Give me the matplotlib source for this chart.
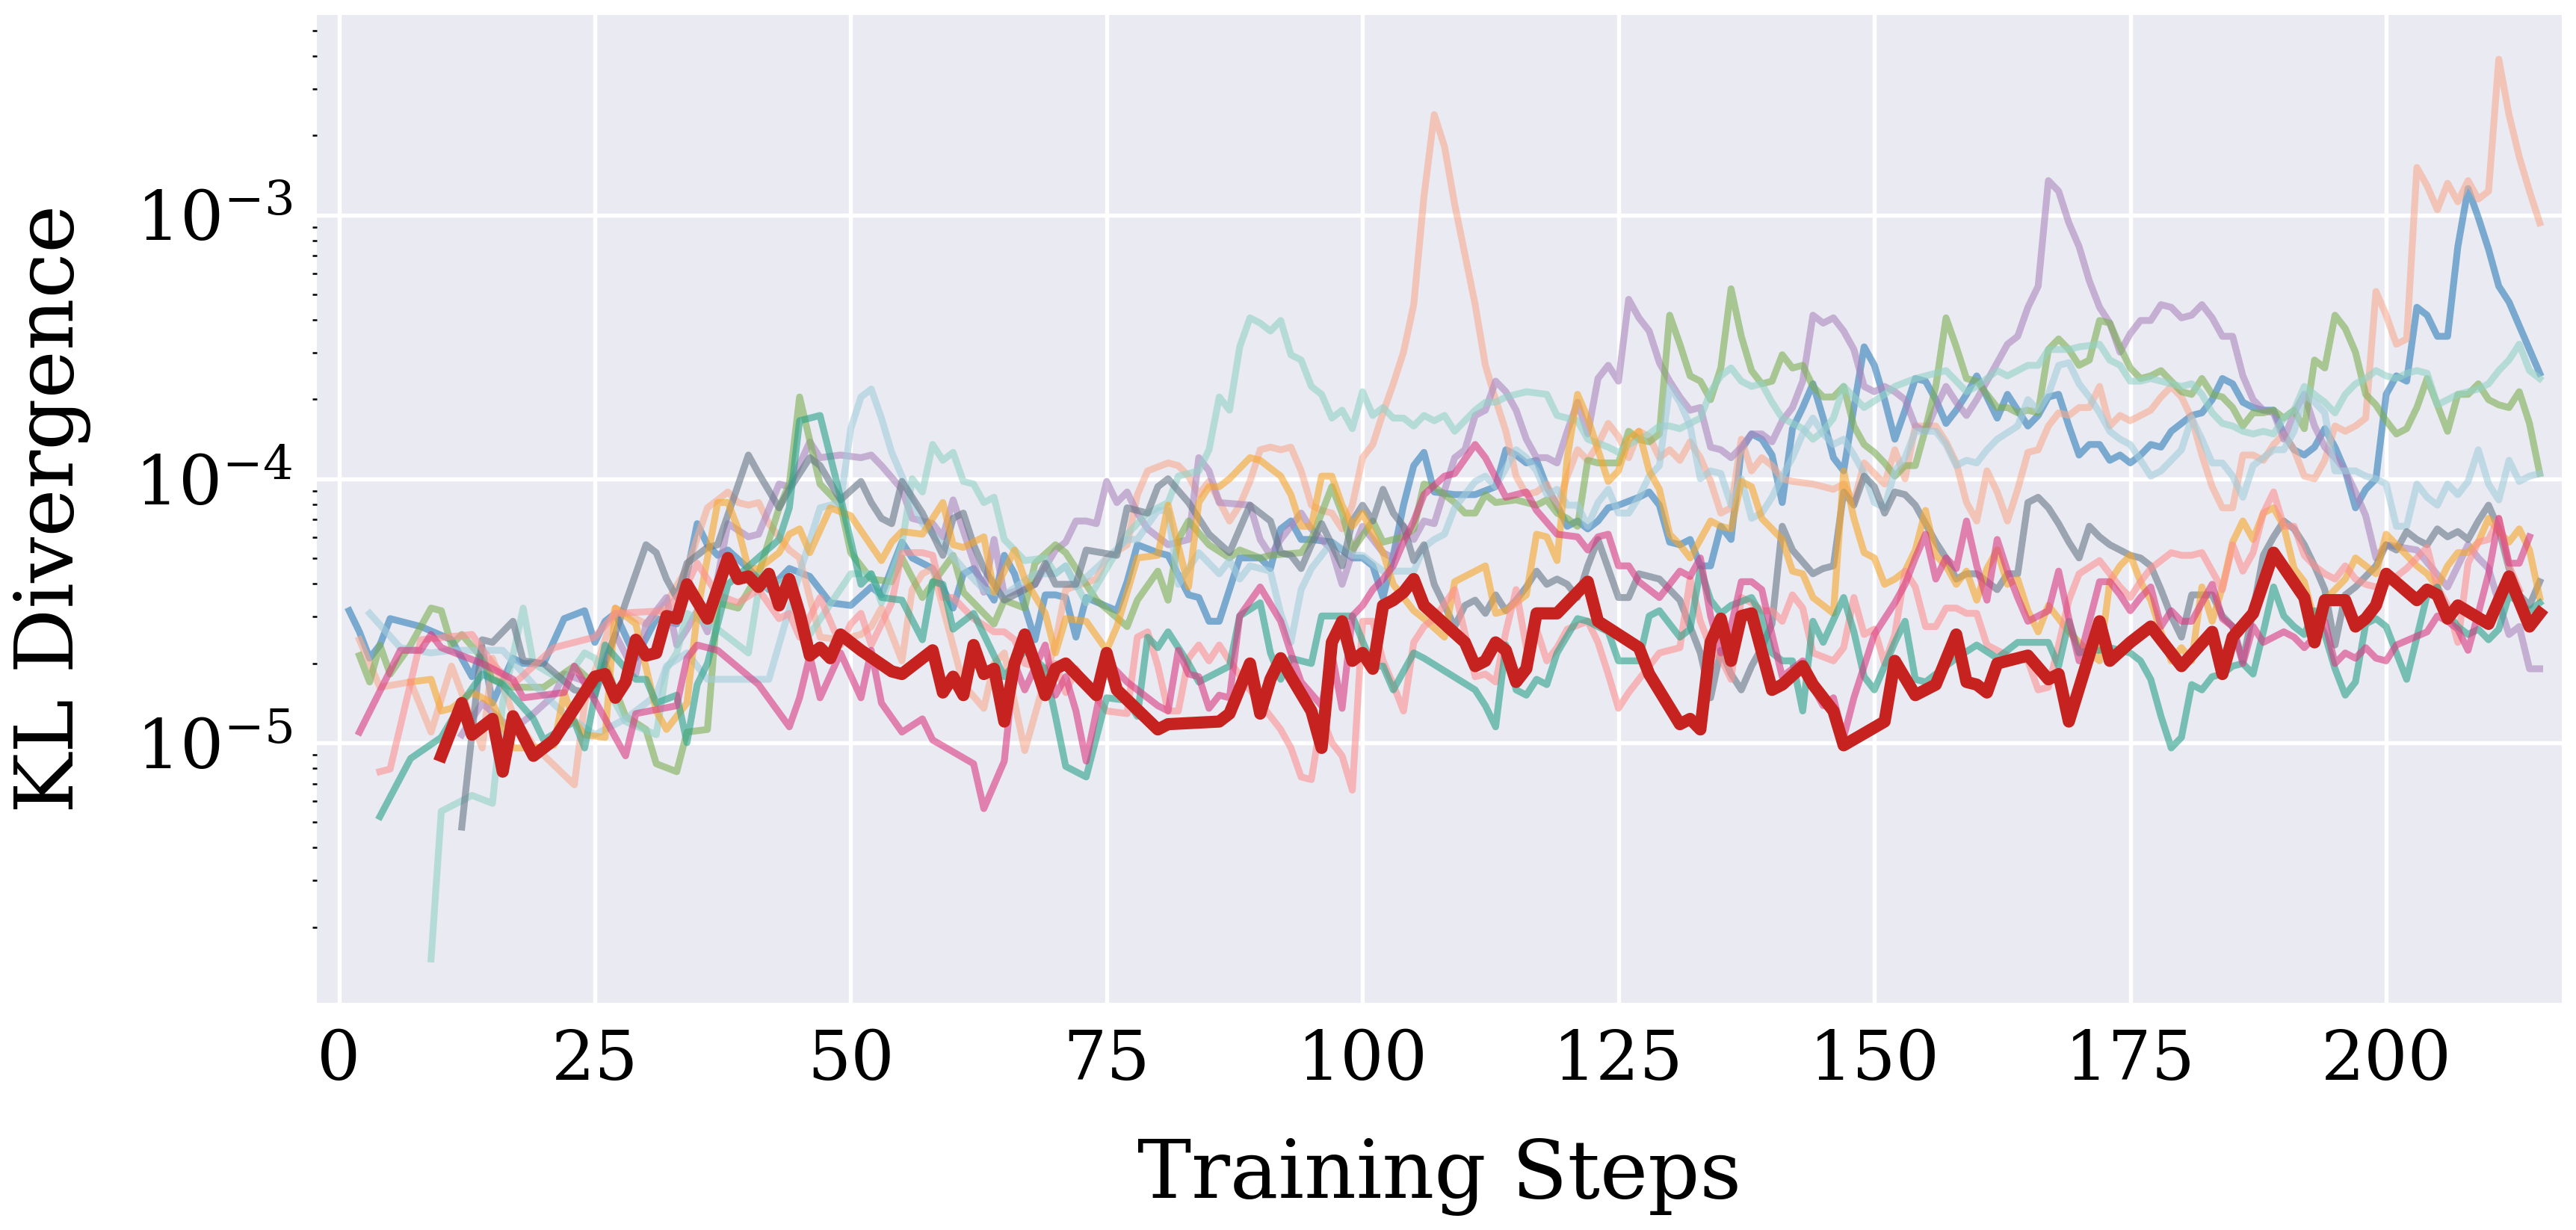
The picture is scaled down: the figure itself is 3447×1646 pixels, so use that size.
import matplotlib
matplotlib.use('Agg')
import matplotlib.pyplot as plt
import numpy as np

# KL divergence per run, values stored as log10(KL)
red_x = [10, 12, 13, 15, 16, 17, 19, 21, 25, 26, 27, 28, 29, 30, 31, 32, 33, 34, 36, 38, 39, 40, 41, 42, 43, 44, 45, 46, 47, 48, 49, 51, 54, 55, 58, 59, 60, 61, 62, 63, 64, 65, 66, 67, 68, 69, 70, 71, 74, 75, 76, 80, 81, 86, 87, 89, 90, 91, 92, 93, 95, 96, 97, 98, 99, 100, 101, 102, 103, 104, 105, 106, 110, 111, 112, 113, 114, 115, 116, 117, 119, 122, 123, 127, 128, 131, 132, 133, 134, 135, 136, 137, 138, 140, 141, 143, 144, 146, 147, 151, 152, 154, 156, 158, 159, 160, 161, 162, 165, 167, 168, 169, 172, 173, 175, 177, 180, 183, 184, 185, 187, 189, 192, 193, 194, 196, 197, 198, 199, 200, 203, 204, 205, 206, 207, 210, 212, 214, 215]
red_y = [-5.05, -4.85, -4.97, -4.91, -5.11, -4.90, -5.05, -4.99, -4.75, -4.74, -4.83, -4.77, -4.61, -4.67, -4.66, -4.52, -4.53, -4.40, -4.53, -4.30, -4.38, -4.37, -4.41, -4.36, -4.48, -4.38, -4.51, -4.67, -4.64, -4.68, -4.59, -4.65, -4.73, -4.74, -4.65, -4.81, -4.75, -4.82, -4.63, -4.74, -4.72, -4.92, -4.70, -4.59, -4.70, -4.82, -4.72, -4.70, -4.82, -4.66, -4.80, -4.95, -4.93, -4.92, -4.89, -4.70, -4.89, -4.76, -4.68, -4.75, -4.88, -5.02, -4.62, -4.54, -4.69, -4.66, -4.72, -4.48, -4.46, -4.43, -4.38, -4.48, -4.62, -4.71, -4.69, -4.62, -4.65, -4.77, -4.72, -4.51, -4.51, -4.39, -4.54, -4.64, -4.74, -4.93, -4.91, -4.95, -4.62, -4.53, -4.69, -4.52, -4.51, -4.80, -4.78, -4.71, -4.78, -4.88, -5.01, -4.92, -4.69, -4.82, -4.78, -4.59, -4.77, -4.78, -4.81, -4.70, -4.67, -4.76, -4.74, -4.92, -4.54, -4.69, -4.62, -4.56, -4.71, -4.58, -4.74, -4.60, -4.51, -4.28, -4.45, -4.62, -4.46, -4.46, -4.56, -4.53, -4.48, -4.36, -4.46, -4.42, -4.44, -4.53, -4.48, -4.55, -4.37, -4.56, -4.51]

blue_x = [1, 2, 3, 4, 5, 8, 11, 13, 14, 15, 17, 18, 20, 22, 24, 25, 26, 27, 29, 31, 33, 35, 36, 37, 38, 40, 42, 44, 46, 48, 50, 52, 53, 55, 56, 58, 60, 61, 62, 64, 65, 66, 68, 69, 70, 71, 72, 73, 76, 77, 78, 80, 81, 83, 84, 85, 86, 87, 88, 90, 91, 92, 93, 94, 95, 97, 98, 99, 100, 101, 102, 103, 104, 105, 106, 107, 109, 111, 113, 114, 115, 116, 117, 118, 119, 120, 121, 122, 123, 124, 125, 127, 128, 129, 130, 131, 132, 133, 134, 135, 136, 137, 138, 139, 140, 141, 142, 143, 144, 145, 146, 147, 148, 149, 150, 151, 152, 153, 154, 155, 156, 157, 158, 159, 160, 161, 162, 163, 164, 165, 166, 167, 168, 169, 170, 171, 172, 173, 174, 175, 176, 177, 178, 179, 180, 181, 182, 183, 184, 185, 186, 187, 188, 189, 190, 191, 192, 193, 194, 195, 196, 197, 198, 199, 200, 201, 202, 203, 204, 205, 206, 207, 208, 209, 210, 211, 212, 213, 214, 215]
blue_y = [-4.50, -4.58, -4.68, -4.63, -4.53, -4.56, -4.61, -4.75, -4.64, -4.85, -4.68, -4.70, -4.70, -4.53, -4.50, -4.62, -4.54, -4.51, -4.68, -4.53, -4.55, -4.17, -4.25, -4.29, -4.27, -4.34, -4.42, -4.34, -4.37, -4.47, -4.48, -4.41, -4.44, -4.24, -4.30, -4.34, -4.49, -4.36, -4.34, -4.46, -4.29, -4.36, -4.61, -4.44, -4.44, -4.45, -4.60, -4.45, -4.50, -4.39, -4.25, -4.28, -4.29, -4.44, -4.45, -4.54, -4.54, -4.42, -4.30, -4.30, -4.34, -4.19, -4.16, -4.23, -4.23, -4.24, -4.27, -4.30, -4.30, -4.33, -4.45, -4.29, -4.10, -3.95, -3.90, -4.05, -4.06, -4.06, -4.03, -3.89, -3.91, -3.94, -3.93, -4.03, -4.10, -4.18, -4.16, -4.19, -4.16, -4.11, -4.10, -4.07, -4.05, -4.10, -4.24, -4.25, -4.23, -4.33, -4.33, -4.18, -4.23, -3.89, -3.83, -3.85, -3.91, -4.09, -3.81, -3.73, -3.64, -3.77, -3.92, -3.97, -3.73, -3.50, -3.57, -3.70, -3.85, -3.74, -3.62, -3.63, -3.70, -3.79, -3.74, -3.68, -3.61, -3.69, -3.77, -3.68, -3.74, -3.80, -3.76, -3.69, -3.68, -3.80, -3.91, -3.87, -3.87, -3.93, -3.91, -3.94, -3.91, -3.87, -3.88, -3.82, -3.79, -3.76, -3.75, -3.70, -3.62, -3.64, -3.71, -3.73, -3.74, -3.74, -3.83, -3.89, -3.91, -3.88, -3.81, -3.88, -3.97, -4.11, -4.04, -4.00, -3.68, -3.61, -3.63, -3.35, -3.38, -3.46, -3.46, -3.12, -2.90, -3.01, -3.13, -3.27, -3.33, -3.42, -3.51, -3.60]

salmon_x = [2, 4, 7, 9, 11, 14, 15, 17, 19, 23, 24, 27, 30, 32, 34, 36, 38, 39, 40, 41, 42, 44, 45, 47, 49, 51, 52, 53, 55, 56, 57, 58, 61, 63, 64, 65, 67, 70, 71, 74, 75, 77, 78, 79, 81, 82, 83, 84, 85, 87, 88, 89, 90, 91, 92, 93, 94, 95, 96, 97, 98, 99, 100, 101, 102, 103, 104, 105, 106, 107, 108, 109, 110, 111, 112, 113, 114, 115, 116, 117, 118, 119, 120, 121, 122, 123, 124, 125, 126, 127, 128, 129, 130, 131, 132, 133, 134, 135, 136, 137, 138, 139, 140, 141, 142, 144, 146, 147, 148, 149, 150, 151, 152, 153, 154, 155, 156, 157, 158, 159, 160, 161, 162, 163, 164, 165, 166, 167, 168, 169, 170, 171, 172, 173, 174, 175, 176, 177, 178, 179, 180, 181, 182, 183, 184, 185, 186, 187, 188, 189, 190, 191, 192, 193, 194, 195, 196, 197, 198, 199, 200, 201, 202, 203, 204, 205, 206, 207, 208, 209, 210, 211, 212, 213, 214, 215]
salmon_y = [-4.61, -4.79, -4.77, -4.96, -4.71, -5.02, -4.68, -4.89, -5.01, -5.16, -4.85, -4.49, -4.55, -4.47, -4.34, -4.11, -4.05, -4.09, -4.10, -4.09, -4.17, -4.27, -4.30, -4.60, -4.61, -4.59, -4.56, -4.49, -4.69, -4.42, -4.36, -4.34, -4.78, -4.87, -4.70, -4.66, -5.03, -4.62, -4.42, -4.38, -4.30, -4.25, -4.06, -3.97, -3.94, -3.95, -3.99, -4.06, -4.01, -4.16, -4.10, -4.01, -3.89, -3.88, -3.89, -3.88, -3.97, -4.10, -4.12, -4.13, -4.19, -4.10, -3.92, -3.87, -3.75, -3.64, -3.52, -3.34, -2.93, -2.62, -2.74, -2.96, -3.15, -3.34, -3.57, -3.70, -3.82, -3.99, -4.06, -4.05, -4.02, -4.11, -3.99, -3.89, -3.93, -3.87, -3.79, -3.84, -3.92, -3.82, -3.84, -3.92, -3.89, -3.93, -3.86, -3.92, -4.01, -4.13, -4.11, -3.85, -3.97, -3.92, -3.95, -4.00, -4.01, -4.02, -4.04, -4.02, -4.09, -3.94, -3.98, -4.02, -3.89, -4.00, -3.80, -3.80, -3.80, -3.86, -3.94, -4.09, -4.16, -3.97, -4.05, -4.16, -4.04, -3.90, -3.89, -3.80, -3.75, -3.76, -3.73, -3.73, -3.65, -3.80, -3.76, -3.78, -3.76, -3.74, -3.69, -3.65, -3.69, -3.77, -3.91, -4.03, -4.11, -4.11, -3.91, -3.91, -3.93, -3.87, -3.83, -3.89, -3.99, -4.00, -3.93, -3.80, -3.82, -3.80, -3.77, -3.29, -3.38, -3.49, -3.47, -2.82, -2.89, -2.98, -2.88, -2.95, -2.87, -2.94, -2.91, -2.41, -2.62, -2.78, -2.91, -3.03]

purple_x = [12, 14, 16, 17, 19, 21, 22, 25, 27, 29, 30, 32, 33, 34, 35, 36, 38, 40, 41, 43, 44, 46, 47, 49, 51, 52, 53, 55, 56, 58, 59, 60, 63, 64, 65, 68, 70, 71, 72, 73, 74, 75, 76, 77, 78, 79, 81, 83, 84, 85, 86, 89, 90, 91, 92, 93, 94, 95, 97, 98, 99, 100, 101, 102, 103, 104, 105, 106, 107, 109, 110, 111, 112, 113, 114, 115, 116, 117, 118, 119, 120, 121, 122, 123, 124, 125, 126, 127, 128, 129, 130, 131, 132, 133, 134, 135, 136, 137, 138, 139, 140, 141, 142, 143, 144, 145, 146, 147, 148, 149, 150, 151, 152, 153, 154, 155, 156, 157, 158, 159, 160, 161, 162, 163, 164, 165, 166, 167, 168, 169, 170, 171, 172, 173, 174, 175, 176, 177, 178, 179, 180, 181, 182, 183, 184, 185, 186, 187, 188, 189, 190, 191, 192, 193, 194, 195, 196, 197, 198, 199, 200, 203, 206, 207, 208, 209, 210, 211, 212, 213, 214, 215]
purple_y = [-4.97, -4.85, -4.92, -4.95, -4.89, -4.82, -4.74, -4.78, -4.59, -4.74, -4.55, -4.45, -4.63, -4.57, -4.50, -4.58, -4.17, -4.22, -4.21, -4.02, -4.03, -3.86, -3.92, -3.91, -3.92, -3.91, -3.95, -4.04, -4.15, -4.17, -4.22, -4.08, -4.43, -4.23, -4.44, -4.40, -4.27, -4.24, -4.16, -4.16, -4.17, -4.01, -4.09, -4.05, -4.13, -4.19, -4.25, -4.23, -3.92, -3.97, -4.09, -4.10, -4.23, -4.29, -4.23, -4.18, -4.13, -4.19, -4.27, -4.40, -4.28, -4.18, -4.23, -4.28, -4.30, -4.18, -4.23, -4.16, -4.17, -3.92, -3.89, -3.76, -3.74, -3.63, -3.67, -3.74, -3.85, -3.92, -3.92, -3.94, -3.82, -3.71, -3.83, -3.62, -3.57, -3.63, -3.32, -3.39, -3.44, -3.56, -3.63, -3.69, -3.74, -3.73, -3.88, -3.89, -3.92, -3.88, -3.83, -3.83, -3.86, -3.78, -3.73, -3.63, -3.38, -3.41, -3.39, -3.44, -3.51, -3.65, -3.67, -3.65, -3.67, -3.70, -3.80, -3.82, -3.73, -3.65, -3.71, -3.76, -3.70, -3.63, -3.56, -3.49, -3.46, -3.35, -3.27, -2.87, -2.91, -3.03, -3.12, -3.25, -3.35, -3.41, -3.52, -3.45, -3.40, -3.40, -3.34, -3.35, -3.39, -3.38, -3.34, -3.39, -3.46, -3.46, -3.61, -3.70, -3.74, -3.75, -3.85, -3.75, -3.68, -3.80, -3.88, -3.92, -3.97, -4.05, -4.14, -4.30, -4.25, -4.27, -4.41, -4.33, -4.25, -4.30, -4.34, -4.47, -4.59, -4.56, -4.72, -4.72]

green_x = [2, 3, 4, 5, 7, 9, 10, 11, 12, 14, 15, 17, 20, 23, 25, 26, 28, 30, 31, 33, 34, 36, 37, 39, 41, 43, 44, 45, 47, 49, 50, 52, 54, 55, 57, 60, 61, 64, 65, 67, 68, 70, 71, 74, 77, 78, 80, 81, 82, 83, 85, 87, 88, 90, 91, 94, 95, 97, 98, 99, 101, 102, 104, 105, 106, 107, 109, 110, 111, 112, 113, 115, 116, 117, 118, 119, 120, 121, 122, 123, 125, 126, 127, 128, 129, 130, 131, 132, 133, 134, 135, 136, 137, 138, 139, 140, 141, 142, 143, 144, 145, 146, 147, 148, 149, 150, 151, 152, 153, 154, 155, 156, 157, 158, 159, 160, 161, 162, 163, 164, 165, 166, 167, 168, 169, 170, 171, 172, 173, 174, 175, 176, 177, 178, 179, 180, 181, 182, 183, 184, 185, 186, 187, 188, 189, 190, 191, 192, 193, 194, 195, 196, 197, 198, 199, 200, 201, 202, 203, 204, 205, 206, 207, 208, 209, 210, 211, 212, 213, 214, 215]
green_y = [-4.67, -4.77, -4.63, -4.74, -4.63, -4.49, -4.50, -4.63, -4.59, -4.68, -4.76, -4.79, -4.79, -4.71, -4.78, -4.70, -4.90, -4.95, -5.08, -5.11, -4.96, -4.95, -4.47, -4.49, -4.36, -4.11, -4.02, -3.69, -4.02, -4.10, -4.28, -4.38, -4.39, -4.30, -4.45, -4.29, -4.43, -4.55, -4.46, -4.49, -4.32, -4.25, -4.28, -4.46, -4.56, -4.46, -4.35, -4.46, -4.23, -4.16, -4.25, -4.30, -4.27, -4.30, -4.29, -4.28, -4.23, -4.03, -4.13, -4.27, -4.16, -4.24, -4.22, -4.19, -4.02, -4.03, -4.09, -4.13, -4.13, -4.06, -4.09, -4.08, -4.09, -4.10, -4.08, -4.13, -4.15, -4.18, -3.93, -3.94, -3.94, -3.82, -3.85, -3.86, -3.83, -3.38, -3.49, -3.61, -3.63, -3.70, -3.58, -3.28, -3.46, -3.59, -3.64, -3.63, -3.53, -3.58, -3.57, -3.65, -3.69, -3.69, -3.65, -3.80, -3.87, -3.90, -3.94, -3.99, -3.95, -3.95, -3.81, -3.65, -3.39, -3.50, -3.62, -3.63, -3.68, -3.73, -3.73, -3.75, -3.74, -3.75, -3.51, -3.47, -3.51, -3.57, -3.55, -3.40, -3.41, -3.50, -3.58, -3.62, -3.61, -3.59, -3.63, -3.67, -3.68, -3.62, -3.68, -3.69, -3.73, -3.80, -3.75, -3.75, -3.74, -3.77, -3.74, -3.81, -3.55, -3.58, -3.38, -3.43, -3.52, -3.68, -3.72, -3.78, -3.83, -3.81, -3.73, -3.62, -3.72, -3.82, -3.68, -3.68, -3.64, -3.70, -3.72, -3.73, -3.67, -3.79, -3.98]

mint_x = [9, 10, 13, 15, 16, 18, 19, 22, 24, 25, 27, 28, 31, 32, 33, 34, 37, 40, 41, 44, 46, 50, 52, 53, 55, 56, 57, 58, 59, 60, 61, 62, 63, 64, 65, 67, 69, 70, 71, 73, 75, 77, 79, 81, 82, 84, 85, 86, 87, 88, 89, 90, 91, 92, 93, 94, 95, 96, 97, 98, 99, 100, 101, 102, 103, 104, 105, 106, 107, 108, 109, 111, 112, 113, 114, 116, 118, 119, 121, 122, 124, 125, 126, 127, 128, 129, 130, 131, 133, 134, 135, 136, 137, 138, 139, 140, 141, 143, 144, 145, 146, 147, 148, 149, 151, 152, 154, 157, 159, 160, 162, 163, 165, 166, 167, 169, 170, 172, 173, 174, 175, 176, 177, 180, 181, 182, 183, 184, 185, 186, 187, 188, 189, 190, 191, 192, 193, 194, 195, 196, 197, 198, 199, 200, 201, 202, 203, 204, 205, 206, 207, 208, 209, 210, 211, 212, 213, 214, 215]
mint_y = [-5.82, -5.26, -5.20, -5.23, -4.85, -4.49, -4.70, -4.77, -4.66, -4.68, -4.85, -4.92, -4.97, -4.72, -4.66, -4.51, -4.57, -4.66, -4.42, -4.38, -4.59, -4.36, -4.36, -4.47, -4.25, -4.00, -4.05, -3.87, -3.93, -3.90, -4.01, -4.02, -4.09, -4.07, -4.23, -4.31, -4.30, -4.36, -4.33, -4.47, -4.34, -4.21, -4.13, -4.09, -3.99, -3.97, -3.89, -3.69, -3.74, -3.50, -3.39, -3.41, -3.44, -3.40, -3.53, -3.55, -3.65, -3.68, -3.77, -3.74, -3.81, -3.67, -3.76, -3.73, -3.77, -3.77, -3.80, -3.76, -3.78, -3.76, -3.82, -3.74, -3.71, -3.71, -3.69, -3.67, -3.68, -3.76, -3.78, -3.85, -3.88, -3.90, -3.87, -3.85, -3.83, -3.80, -3.80, -3.81, -3.77, -3.67, -3.61, -3.58, -3.63, -3.65, -3.64, -3.71, -3.77, -3.81, -3.85, -3.82, -3.77, -3.65, -3.69, -3.73, -3.68, -3.65, -3.62, -3.59, -3.67, -3.65, -3.59, -3.61, -3.57, -3.57, -3.51, -3.51, -3.50, -3.49, -3.55, -3.57, -3.63, -3.63, -3.62, -3.65, -3.64, -3.68, -3.75, -3.79, -3.80, -3.82, -3.83, -3.82, -3.83, -3.77, -3.74, -3.65, -3.68, -3.71, -3.75, -3.68, -3.64, -3.62, -3.59, -3.61, -3.62, -3.60, -3.59, -3.60, -3.72, -3.70, -3.68, -3.67, -3.66, -3.64, -3.59, -3.55, -3.49, -3.59, -3.62]

skyblue_x = [3, 6, 9, 11, 16, 19, 22, 25, 28, 31, 32, 34, 36, 39, 42, 45, 47, 49, 50, 51, 52, 53, 54, 56, 57, 59, 61, 63, 65, 68, 70, 71, 72, 77, 78, 80, 81, 82, 84, 86, 87, 88, 89, 91, 92, 93, 94, 95, 97, 99, 100, 102, 104, 105, 106, 107, 108, 109, 111, 112, 113, 115, 116, 117, 118, 119, 120, 121, 122, 123, 124, 125, 126, 127, 128, 129, 130, 131, 132, 133, 134, 135, 136, 137, 138, 139, 140, 141, 142, 143, 144, 145, 146, 147, 148, 149, 150, 151, 152, 153, 154, 156, 157, 158, 159, 160, 161, 162, 164, 165, 166, 167, 168, 169, 170, 171, 172, 173, 174, 175, 176, 177, 178, 179, 180, 181, 182, 183, 184, 185, 186, 187, 188, 189, 190, 191, 192, 193, 194, 195, 196, 197, 198, 199, 200, 201, 202, 203, 204, 205, 206, 207, 208, 209, 210, 211, 212, 213, 214, 215]
skyblue_y = [-4.51, -4.64, -4.66, -4.65, -4.65, -4.78, -4.89, -4.97, -4.91, -4.82, -4.71, -4.66, -4.76, -4.76, -4.76, -4.36, -4.11, -4.09, -3.81, -3.69, -3.66, -3.77, -3.90, -4.08, -4.17, -4.25, -4.34, -4.42, -4.44, -4.36, -4.36, -4.33, -4.41, -4.23, -4.23, -4.12, -4.12, -4.40, -4.28, -4.36, -4.31, -4.38, -4.33, -4.35, -4.51, -4.62, -4.42, -4.34, -4.24, -4.29, -4.29, -4.35, -4.35, -4.35, -4.26, -4.23, -4.21, -4.11, -4.01, -3.99, -4.03, -3.89, -3.92, -3.97, -4.06, -4.04, -4.10, -4.10, -4.18, -4.09, -4.04, -4.13, -4.13, -4.07, -3.99, -3.95, -3.65, -3.71, -3.80, -4.00, -3.97, -3.98, -4.10, -4.00, -4.15, -4.13, -4.07, -3.99, -3.92, -3.83, -3.77, -3.83, -3.87, -3.85, -3.91, -3.98, -4.09, -4.11, -3.97, -3.92, -3.82, -3.82, -3.87, -3.95, -3.93, -3.94, -3.89, -3.85, -3.80, -3.70, -3.74, -3.68, -3.57, -3.56, -3.64, -3.69, -3.75, -3.82, -3.85, -3.87, -3.93, -3.99, -3.97, -3.93, -3.89, -3.77, -3.85, -3.94, -3.94, -3.99, -4.07, -3.95, -3.92, -3.89, -3.89, -3.82, -3.68, -3.71, -3.75, -3.97, -3.97, -3.97, -3.99, -4.00, -4.02, -4.18, -4.18, -4.02, -4.07, -4.10, -4.02, -4.06, -4.01, -3.89, -4.02, -4.08, -3.93, -4.01, -3.99, -3.98]

gray_x = [12, 14, 15, 17, 18, 20, 23, 25, 28, 30, 31, 32, 33, 34, 36, 37, 40, 41, 43, 44, 46, 47, 49, 51, 52, 53, 54, 55, 57, 59, 60, 61, 62, 63, 65, 68, 69, 70, 72, 73, 76, 77, 79, 80, 81, 83, 85, 87, 89, 91, 92, 93, 94, 95, 96, 98, 99, 100, 101, 102, 103, 104, 105, 106, 107, 109, 110, 111, 112, 113, 114, 115, 116, 117, 118, 119, 120, 121, 122, 123, 124, 125, 126, 127, 129, 131, 132, 133, 134, 135, 136, 137, 138, 139, 140, 141, 142, 144, 145, 146, 147, 148, 149, 150, 151, 152, 153, 154, 155, 156, 157, 158, 159, 160, 161, 162, 163, 164, 165, 166, 167, 168, 169, 170, 171, 172, 173, 174, 175, 176, 177, 178, 179, 180, 181, 183, 184, 185, 186, 187, 188, 189, 190, 191, 192, 193, 194, 195, 196, 197, 198, 199, 200, 201, 202, 203, 204, 205, 206, 207, 208, 209, 210, 211, 212, 213, 214, 215]
gray_y = [-5.32, -4.61, -4.62, -4.54, -4.69, -4.70, -4.80, -4.82, -4.47, -4.25, -4.28, -4.38, -4.45, -4.32, -4.26, -4.25, -3.91, -3.98, -4.11, -4.04, -3.92, -3.95, -4.08, -4.01, -4.09, -4.15, -4.17, -4.01, -4.13, -4.29, -4.15, -4.13, -4.25, -4.34, -4.46, -4.40, -4.32, -4.40, -4.40, -4.27, -4.29, -4.11, -4.13, -4.03, -4.00, -4.09, -4.21, -4.28, -4.10, -4.16, -4.28, -4.29, -4.34, -4.25, -4.17, -4.33, -4.16, -4.10, -4.16, -4.04, -4.13, -4.18, -4.31, -4.25, -4.40, -4.56, -4.48, -4.46, -4.51, -4.44, -4.50, -4.46, -4.41, -4.35, -4.40, -4.38, -4.40, -4.45, -4.33, -4.23, -4.34, -4.45, -4.45, -4.36, -4.38, -4.46, -4.56, -4.66, -4.83, -4.65, -4.74, -4.80, -4.71, -4.64, -4.55, -4.18, -4.27, -4.36, -4.34, -4.33, -4.05, -4.10, -3.99, -4.03, -4.13, -4.05, -4.06, -4.10, -4.17, -4.24, -4.30, -4.38, -4.36, -4.36, -4.39, -4.42, -4.36, -4.36, -4.09, -4.07, -4.11, -4.17, -4.24, -4.30, -4.18, -4.22, -4.25, -4.27, -4.29, -4.30, -4.33, -4.42, -4.52, -4.60, -4.44, -4.44, -4.52, -4.56, -4.69, -4.50, -4.29, -4.22, -4.16, -4.19, -4.25, -4.33, -4.42, -4.63, -4.44, -4.41, -4.37, -4.33, -4.25, -4.27, -4.20, -4.23, -4.25, -4.19, -4.22, -4.20, -4.23, -4.16, -4.10, -4.19, -4.34, -4.44, -4.48, -4.39]

orange_x = [7, 9, 10, 11, 13, 15, 17, 19, 21, 22, 23, 24, 26, 27, 29, 31, 32, 34, 35, 37, 38, 39, 40, 41, 43, 44, 45, 46, 48, 50, 53, 54, 55, 57, 59, 60, 61, 63, 64, 66, 67, 69, 70, 71, 73, 75, 76, 78, 80, 81, 83, 84, 85, 86, 87, 89, 90, 92, 93, 94, 95, 96, 97, 98, 99, 100, 101, 102, 103, 104, 105, 106, 108, 109, 112, 113, 114, 116, 117, 118, 119, 120, 121, 122, 123, 124, 125, 126, 127, 128, 129, 130, 131, 132, 133, 134, 135, 136, 137, 138, 139, 140, 141, 142, 143, 144, 146, 147, 148, 149, 150, 151, 152, 153, 154, 155, 156, 157, 158, 159, 160, 161, 162, 163, 164, 165, 166, 167, 169, 170, 171, 172, 173, 174, 175, 176, 177, 178, 179, 180, 181, 182, 183, 184, 185, 186, 187, 188, 189, 190, 191, 192, 193, 194, 195, 196, 197, 198, 199, 200, 201, 203, 204, 205, 206, 207, 208, 209, 210, 211, 212, 213, 214, 215]
orange_y = [-4.77, -4.76, -4.88, -4.87, -4.81, -4.85, -5.02, -5.02, -5.01, -4.81, -4.92, -4.97, -4.98, -4.49, -4.55, -4.88, -4.95, -4.85, -4.51, -4.09, -4.09, -4.19, -4.34, -4.34, -4.28, -4.21, -4.19, -4.28, -4.11, -4.14, -4.31, -4.24, -4.20, -4.21, -4.09, -4.25, -4.26, -4.22, -4.43, -4.27, -4.38, -4.51, -4.66, -4.53, -4.54, -4.65, -4.56, -4.30, -4.29, -4.10, -4.41, -4.09, -4.03, -4.03, -4.00, -3.92, -3.93, -3.99, -4.06, -4.18, -4.18, -3.99, -3.99, -4.10, -4.18, -4.13, -4.21, -4.28, -4.40, -4.45, -4.50, -4.53, -4.60, -4.39, -4.33, -4.51, -4.50, -4.44, -4.21, -4.22, -4.31, -3.92, -3.68, -3.77, -3.89, -4.01, -3.97, -3.85, -3.82, -3.97, -4.04, -4.21, -4.25, -4.30, -4.23, -4.16, -4.18, -4.19, -4.01, -4.03, -4.15, -4.19, -4.23, -4.35, -4.36, -4.45, -4.51, -3.97, -4.15, -4.28, -4.30, -4.40, -4.38, -4.35, -4.27, -4.12, -4.29, -4.33, -4.40, -4.35, -4.46, -4.34, -4.27, -4.40, -4.38, -4.50, -4.58, -4.48, -4.58, -4.62, -4.66, -4.69, -4.39, -4.33, -4.29, -4.39, -4.46, -4.58, -4.69, -4.64, -4.69, -4.41, -4.54, -4.41, -4.24, -4.16, -4.23, -4.13, -4.11, -4.18, -4.34, -4.39, -4.54, -4.46, -4.42, -4.38, -4.30, -4.33, -4.36, -4.21, -4.25, -4.33, -4.36, -4.41, -4.33, -4.28, -4.28, -4.24, -4.15, -4.20, -4.24, -4.19, -4.27, -4.45]

pink_x = [2, 6, 8, 9, 10, 14, 17, 18, 22, 23, 25, 28, 29, 33, 34, 35, 37, 41, 44, 45, 46, 47, 49, 51, 52, 53, 55, 57, 58, 62, 63, 65, 66, 67, 69, 70, 71, 72, 73, 75, 77, 80, 81, 82, 83, 84, 85, 86, 87, 88, 90, 92, 93, 94, 96, 97, 98, 99, 100, 101, 102, 103, 104, 105, 106, 108, 109, 111, 112, 114, 116, 117, 119, 121, 122, 123, 124, 125, 126, 127, 129, 131, 132, 133, 134, 135, 136, 137, 138, 139, 140, 141, 143, 144, 145, 146, 147, 148, 149, 150, 152, 153, 154, 155, 156, 157, 158, 159, 160, 161, 162, 163, 164, 165, 166, 167, 168, 169, 170, 171, 172, 173, 174, 175, 176, 177, 178, 179, 180, 181, 182, 183, 184, 185, 186, 187, 188, 189, 190, 191, 192, 193, 194, 195, 196, 197, 198, 199, 200, 201, 204, 205, 206, 207, 208, 209, 210, 211, 212, 213, 214]
pink_y = [-4.96, -4.65, -4.65, -4.59, -4.64, -4.70, -4.76, -4.83, -4.81, -4.71, -4.84, -5.05, -4.89, -4.86, -4.68, -4.63, -4.65, -4.78, -4.94, -4.83, -4.67, -4.83, -4.66, -4.83, -4.65, -4.85, -4.96, -4.91, -4.99, -5.08, -5.25, -5.07, -4.70, -4.80, -4.63, -4.82, -4.75, -4.88, -5.07, -4.69, -4.77, -4.86, -4.88, -4.65, -4.74, -4.75, -4.87, -4.82, -4.83, -4.52, -4.41, -4.54, -4.66, -4.77, -4.86, -4.66, -4.87, -4.52, -4.48, -4.42, -4.38, -4.33, -4.24, -4.16, -4.06, -3.99, -3.98, -3.87, -3.92, -4.07, -4.05, -4.12, -4.21, -4.22, -4.27, -4.22, -4.21, -4.33, -4.33, -4.39, -4.45, -4.35, -4.37, -4.30, -4.52, -4.66, -4.56, -4.39, -4.39, -4.42, -4.59, -4.75, -4.69, -4.79, -4.86, -4.83, -4.98, -4.83, -4.71, -4.59, -4.47, -4.40, -4.30, -4.21, -4.38, -4.30, -4.34, -4.16, -4.33, -4.46, -4.23, -4.35, -4.45, -4.54, -4.52, -4.50, -4.35, -4.53, -4.69, -4.54, -4.39, -4.39, -4.44, -4.50, -4.45, -4.41, -4.56, -4.50, -4.54, -4.54, -4.47, -4.40, -4.53, -4.56, -4.70, -4.56, -4.62, -4.60, -4.58, -4.60, -4.64, -4.60, -4.54, -4.70, -4.66, -4.68, -4.64, -4.68, -4.69, -4.63, -4.58, -4.52, -4.54, -4.57, -4.65, -4.51, -4.36, -4.15, -4.32, -4.32, -4.22]

teal_x = [4, 7, 10, 12, 14, 16, 19, 20, 23, 24, 26, 28, 29, 30, 31, 33, 34, 35, 36, 38, 43, 44, 45, 47, 49, 51, 52, 53, 55, 57, 58, 59, 60, 62, 65, 67, 69, 70, 71, 73, 75, 77, 78, 79, 80, 81, 83, 84, 87, 88, 90, 91, 92, 93, 95, 96, 99, 101, 102, 103, 105, 106, 111, 112, 113, 114, 115, 116, 117, 118, 119, 121, 122, 124, 125, 127, 128, 129, 131, 132, 133, 134, 135, 136, 138, 139, 140, 141, 142, 143, 144, 145, 147, 148, 149, 150, 152, 153, 154, 155, 156, 158, 160, 162, 164, 165, 167, 168, 169, 170, 171, 172, 173, 175, 176, 177, 178, 179, 180, 181, 182, 183, 184, 185, 186, 187, 188, 189, 190, 191, 192, 193, 194, 195, 196, 197, 198, 199, 200, 202, 203, 204, 205, 206, 207, 208, 209, 210, 211, 212, 213, 214, 215]
teal_y = [-5.28, -5.06, -4.98, -4.85, -4.74, -4.78, -4.91, -4.99, -4.92, -5.02, -4.63, -4.72, -4.76, -4.76, -4.85, -4.82, -5.00, -4.78, -4.70, -4.40, -4.23, -4.11, -3.78, -3.76, -4.07, -4.40, -4.36, -4.45, -4.46, -4.61, -4.39, -4.40, -4.57, -4.51, -4.75, -4.65, -4.72, -4.90, -5.09, -5.13, -4.83, -4.84, -4.90, -4.60, -4.64, -4.58, -4.70, -4.77, -4.71, -4.52, -4.47, -4.66, -4.76, -4.68, -4.70, -4.52, -4.52, -4.71, -4.71, -4.80, -4.66, -4.68, -4.80, -4.86, -4.94, -4.63, -4.80, -4.82, -4.76, -4.78, -4.66, -4.53, -4.54, -4.58, -4.69, -4.69, -4.52, -4.50, -4.60, -4.57, -4.34, -4.46, -4.51, -4.48, -4.45, -4.52, -4.66, -4.69, -4.69, -4.88, -4.54, -4.62, -4.45, -4.58, -4.75, -4.80, -4.62, -4.54, -4.76, -4.77, -4.74, -4.68, -4.63, -4.68, -4.62, -4.62, -4.62, -4.71, -4.54, -4.66, -4.65, -4.65, -4.64, -4.66, -4.69, -4.76, -4.90, -5.02, -4.98, -4.78, -4.80, -4.75, -4.74, -4.71, -4.70, -4.74, -4.58, -4.41, -4.52, -4.56, -4.59, -4.50, -4.59, -4.72, -4.82, -4.77, -4.55, -4.53, -4.56, -4.76, -4.60, -4.44, -4.41, -4.51, -4.56, -4.59, -4.57, -4.61, -4.57, -4.44, -4.47, -4.50, -4.47]

rose_x = [4, 5, 8, 13, 15, 17, 21, 25, 27, 32, 34, 35, 37, 39, 41, 43, 44, 45, 47, 49, 50, 51, 52, 54, 55, 57, 58, 59, 60, 62, 64, 65, 66, 67, 69, 70, 71, 72, 73, 75, 77, 78, 79, 80, 81, 82, 83, 84, 85, 86, 87, 89, 92, 93, 94, 95, 96, 97, 98, 99, 100, 101, 102, 103, 104, 105, 106, 107, 109, 111, 112, 113, 114, 115, 116, 117, 118, 119, 120, 122, 123, 124, 125, 126, 128, 129, 131, 132, 133, 134, 135, 136, 137, 138, 139, 140, 141, 142, 143, 144, 146, 147, 148, 149, 150, 151, 152, 153, 154, 155, 156, 157, 158, 159, 160, 161, 162, 163, 165, 166, 167, 168, 169, 170, 172, 173, 174, 175, 176, 177, 178, 179, 180, 181, 182, 183, 184, 185, 186, 187, 188, 189, 190, 191, 192, 193, 194, 195, 196, 197, 198, 199, 200, 202, 204, 205, 206, 207, 208, 209, 210, 211, 212, 213]
rose_y = [-5.11, -5.10, -4.61, -4.59, -4.70, -4.78, -4.64, -4.60, -4.51, -4.50, -4.40, -4.32, -4.44, -4.47, -4.42, -4.53, -4.51, -4.60, -4.45, -4.63, -4.55, -4.51, -4.63, -4.47, -4.28, -4.28, -4.29, -4.45, -4.45, -4.53, -4.58, -4.58, -4.61, -4.70, -4.72, -4.70, -4.81, -4.72, -4.78, -4.88, -4.89, -4.60, -4.58, -4.71, -4.88, -4.88, -4.68, -4.63, -4.69, -4.63, -4.69, -4.80, -4.95, -5.02, -5.13, -5.14, -4.90, -5.00, -5.05, -5.18, -4.54, -4.54, -4.69, -4.78, -4.88, -4.62, -4.56, -4.53, -4.42, -4.75, -4.74, -4.77, -4.58, -4.42, -4.64, -4.57, -4.69, -4.64, -4.57, -4.54, -4.62, -4.74, -4.87, -4.81, -4.71, -4.66, -4.64, -4.38, -4.54, -4.64, -4.68, -4.76, -4.45, -4.47, -4.50, -4.50, -4.54, -4.44, -4.49, -4.66, -4.69, -4.64, -4.45, -4.59, -4.57, -4.70, -4.59, -4.35, -4.41, -4.56, -4.56, -4.49, -4.49, -4.51, -4.51, -4.63, -4.65, -4.67, -4.69, -4.80, -4.79, -4.63, -4.46, -4.36, -4.31, -4.36, -4.41, -4.45, -4.39, -4.34, -4.31, -4.28, -4.29, -4.29, -4.28, -4.35, -4.42, -4.25, -4.35, -4.28, -4.13, -4.05, -4.18, -4.18, -4.29, -4.33, -4.36, -4.38, -4.33, -4.38, -4.40, -4.41, -4.40, -4.34, -4.26, -4.41, -4.48, -4.62, -4.32, -4.24, -4.23, -4.15, -4.33, -4.42]

runs = [
    (blue_x, blue_y, '#2F7EB9'),
    (salmon_x, salmon_y, '#F7AC90'),
    (purple_x, purple_y, '#AB86BE'),
    (green_x, green_y, '#7CAE52'),
    (mint_x, mint_y, '#93D2C7'),
    (skyblue_x, skyblue_y, '#A2CCDB'),
    (gray_x, gray_y, '#667787'),
    (orange_x, orange_y, '#F7A62A'),
    (rose_x, rose_y, '#FE9091'),
    (teal_x, teal_y, '#29A289'),
    (pink_x, pink_y, '#D93981'),
]

plt.rcParams['font.family'] = 'DejaVu Serif'
plt.rcParams['mathtext.fontset'] = 'dejavuserif'

fig = plt.figure(figsize=(11.493, 5.487), dpi=300)
ax = fig.add_axes([0.1230, 0.1847, 0.8712, 0.8031])
ax.set_facecolor('#EAEAF2')
for s in ax.spines.values():
    s.set_visible(False)
ax.grid(True, which='major', color='white', linewidth=1.3)
ax.set_axisbelow(True)

for xs, ys, c in runs:
    ax.plot(xs, 10 ** np.array(ys), color=c, alpha=0.6, linewidth=2.2)
ax.plot(red_x, 10 ** np.array(red_y), color='#C62320', linewidth=3.9)

ax.set_yscale('log')
ax.set_xlim(-2.15, 217.15)
ax.set_ylim(10 ** -5.986, 10 ** -2.242)
ax.set_xticks([0, 25, 50, 75, 100, 125, 150, 175, 200])

ax.tick_params(axis='both', which='major', length=0, labelsize=22, pad=8, colors='black')
ax.tick_params(axis='y', which='minor', left=True, length=1.5, width=0.6, color='black')
ax.tick_params(axis='x', which='minor', bottom=False)

ax.set_xlabel('Training Steps', fontsize=26, labelpad=14)
ax.set_ylabel('KL Divergence', fontsize=26, labelpad=14)

fig.savefig('out.png', dpi=300)
